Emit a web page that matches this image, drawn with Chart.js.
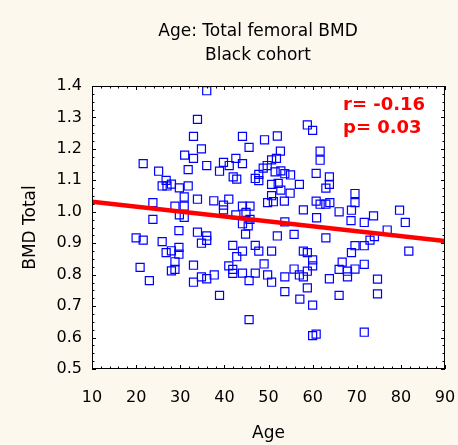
<!DOCTYPE html>
<html>
<head>
<meta charset="utf-8">
<script src="https://cdn.jsdelivr.net/npm/chart.js@4"></script>
<style>
  html, body { margin: 0; padding: 0; background: #fdf8ee; }
  #wrap { width: 458px; height: 445px; }
</style>
</head>
<body>
<div id="wrap"><canvas id="bmd"></canvas></div>
<script>
// Age vs total femoral BMD, black cohort
const ages = [
  36.0, 33.9, 33.0, 44.1, 49.1, 45.6, 34.8, 21.6, 31.0, 33.0,
  42.6, 39.8, 41.1, 44.1, 36.0, 49.7, 25.1, 31.8, 38.9, 42.0,
  42.8, 47.0, 47.8, 26.8, 25.9, 27.0, 28.0, 29.8, 31.8, 30.9,
  33.9, 37.6, 41.0, 39.8, 39.8, 23.8, 28.8, 30.9, 29.8, 30.9,
  23.8, 44.1, 45.8, 42.6, 44.9, 44.1, 45.8, 49.8, 48.8, 47.8,
  58.8, 60.0, 52.0, 52.7, 61.7, 61.7, 50.7, 51.8, 51.5, 52.8,
  53.7, 55.0, 60.8, 63.8, 63.8, 63.0, 50.7, 52.2, 52.8, 57.0,
  54.9, 50.7, 51.1, 53.6, 60.8, 61.7, 63.0, 63.9, 69.6, 69.6,
  57.9, 60.9, 66.0, 68.8, 68.7, 71.7, 73.8, 79.7, 81.0, 53.7,
  45.4, 44.8, 29.7, 33.9, 36.0, 36.0, 34.8, 20.0, 21.6, 25.9,
  28.0, 26.8, 29.7, 29.7, 28.8, 28.0, 28.8, 20.9, 23.0, 33.0,
  33.0, 34.8, 36.0, 37.7, 38.9, 41.9, 44.1, 42.8, 47.0, 47.8,
  41.0, 41.9, 41.9, 44.1, 47.0, 45.6, 49.0, 49.8, 50.7, 45.6,
  52.0, 55.8, 63.0, 57.9, 58.8, 60.0, 60.0, 55.8, 57.0, 57.9,
  58.8, 53.7, 50.7, 53.7, 58.8, 57.1, 60.0, 60.0, 60.8, 63.8,
  66.0, 66.7, 66.0, 67.9, 67.9, 69.6, 71.7, 68.8, 69.6, 71.7,
  73.0, 74.0, 76.9, 74.7, 74.7, 71.7, 81.8
];
const bmd = [
  1.385, 1.294, 1.240, 1.240, 1.229, 1.205, 1.200, 1.153, 1.180, 1.170,
  1.170, 1.157, 1.147, 1.153, 1.147, 1.147, 1.129, 1.134, 1.129, 1.111,
  1.104, 1.106, 1.099, 1.100, 1.082, 1.082, 1.088, 1.076, 1.082, 1.047,
  1.040, 1.035, 1.040, 1.021, 1.006, 1.029, 1.018, 1.018, 0.990, 0.982,
  0.976, 1.018, 1.018, 0.990, 0.998, 0.962, 0.976, 1.029, 1.139, 1.119,
  1.276, 1.259, 1.241, 1.193, 1.193, 1.164, 1.165, 1.170, 1.127, 1.130,
  1.121, 1.117, 1.122, 1.111, 1.087, 1.075, 1.087, 1.090, 1.069, 1.087,
  1.059, 1.051, 1.032, 1.034, 1.034, 1.024, 1.024, 1.029, 1.058, 1.029,
  1.006, 0.981, 1.000, 1.005, 0.972, 0.966, 0.987, 1.005, 0.966, 0.968,
  0.955, 0.929, 0.940, 0.935, 0.923, 0.909, 0.900, 0.917, 0.910, 0.905,
  0.876, 0.870, 0.887, 0.865, 0.841, 0.812, 0.817, 0.823, 0.781, 0.830,
  0.776, 0.793, 0.787, 0.799, 0.734, 0.893, 0.875, 0.857, 0.893, 0.875,
  0.828, 0.817, 0.804, 0.805, 0.805, 0.781, 0.834, 0.799, 0.875, 0.657,
  0.923, 0.928, 0.917, 0.875, 0.870, 0.847, 0.828, 0.818, 0.799, 0.793,
  0.811, 0.793, 0.776, 0.746, 0.758, 0.722, 0.703, 0.606, 0.611, 0.787,
  0.734, 0.840, 0.817, 0.811, 0.793, 0.818, 0.833, 0.870, 0.892, 0.892,
  0.910, 0.921, 0.942, 0.786, 0.739, 0.617, 0.875
];

// regression line end points
const fitAge = [10, 90];
const fitBmd = [1.032, 0.907];

const titleLines = ['Age: Total femoral BMD', 'Black cohort'];
const statLines = ['r= -0.16', 'p= 0.03'];

const FONT = '"DejaVu Sans", "Liberation Sans", Arial, sans-serif';

// background, frame, inward ticks and the text blocks
const decor = {
  id: 'decor',
  beforeDraw(chart) {
    const { ctx, chartArea: a } = chart;
    ctx.save();
    ctx.fillStyle = '#fdf8ee';
    ctx.fillRect(0, 0, chart.width, chart.height);
    ctx.fillStyle = '#ffffff';
    ctx.fillRect(a.left, a.top, a.right - a.left, a.bottom - a.top);
    ctx.restore();
  },
  afterDraw(chart) {
    const { ctx, chartArea: a } = chart;
    const sx = chart.scales.x, sy = chart.scales.y;
    ctx.save();
    ctx.strokeStyle = '#000';
    ctx.lineWidth = 1;
    ctx.strokeRect(a.left + 0.5, a.top + 0.5, a.right - a.left - 1, a.bottom - a.top - 1);

    ctx.beginPath();
    for (let i = 0; i <= 40; i++) {
      const px = Math.round(sx.getPixelForValue(10 + i * 2)) + 0.5;
      const len = i % 5 === 0 ? 4 : 2.5;
      ctx.moveTo(px, a.bottom); ctx.lineTo(px, a.bottom - len);
      ctx.moveTo(px, a.top); ctx.lineTo(px, a.top + len);
    }
    for (let i = 0; i <= 36; i++) {
      const py = Math.round(sy.getPixelForValue(0.5 + i * 0.025)) + 0.5;
      const len = i % 4 === 0 ? 4 : 2.5;
      ctx.moveTo(a.left, py); ctx.lineTo(a.left + len, py);
      ctx.moveTo(a.right, py); ctx.lineTo(a.right - len, py);
    }
    ctx.stroke();

    ctx.fillStyle = '#000';
    ctx.font = '17px ' + FONT;
    ctx.textAlign = 'center';
    ctx.textBaseline = 'middle';
    ctx.fillText(titleLines[0], 258, 32);
    ctx.fillText(titleLines[1], 258, 56);

    ctx.fillStyle = '#ff0000';
    ctx.font = 'bold 18px ' + FONT;
    ctx.textAlign = 'left';
    ctx.fillText(statLines[0], 343, 105);
    ctx.fillText(statLines[1], 343, 128);
    ctx.restore();
  }
};

new Chart(document.getElementById('bmd'), {
  type: 'scatter',
  data: {
    datasets: [
      {
        label: 'fit',
        type: 'line',
        data: fitAge.map((x, i) => ({ x: x, y: fitBmd[i] })),
        borderColor: '#ff0000',
        borderWidth: 4.5,
        pointRadius: 0,
        fill: false,
        order: 0
      },
      {
        label: 'BMD Total',
        data: ages.map((x, i) => ({ x: x, y: bmd[i] })),
        pointStyle: 'rect',
        pointRadius: 5.7,
        borderColor: '#0000ff',
        backgroundColor: 'rgba(0,0,0,0)',
        pointBorderWidth: 1.2,
        order: 1
      }
    ]
  },
  options: {
    responsive: true,
    maintainAspectRatio: false,
    animation: false,
    layout: { padding: { top: 86, right: 13, bottom: 0, left: 0 } },
    plugins: {
      legend: { display: false },
      tooltip: { enabled: false }
    },
    scales: {
      x: {
        type: 'linear',
        min: 10,
        max: 90,
        grid: { display: false, drawTicks: false },
        border: { display: false },
        ticks: { stepSize: 10, padding: 19, minRotation: 0, maxRotation: 0, color: '#000', font: { family: FONT, size: 16 } },
        title: { display: true, text: 'Age', color: '#000', font: { family: FONT, size: 17 }, padding: { top: 0, bottom: 1 } },
        afterFit(scale) {
          scale.height = 76;
          scale.paddingLeft = 0;
          scale.paddingRight = 0;
        }
      },
      y: {
        type: 'linear',
        min: 0.5,
        max: 1.4,
        grid: { display: false, drawTicks: false },
        border: { display: false },
        ticks: {
          stepSize: 0.1,
          padding: 10,
          color: '#000',
          font: { family: FONT, size: 16 },
          callback: v => v.toFixed(1)
        },
        title: { display: true, text: 'BMD Total', color: '#000', font: { family: FONT, size: 17 }, padding: { top: 20, bottom: 0 } },
        afterFit(scale) { scale.width = 92; }
      }
    }
  },
  plugins: [decor]
});
</script>
</body>
</html>
